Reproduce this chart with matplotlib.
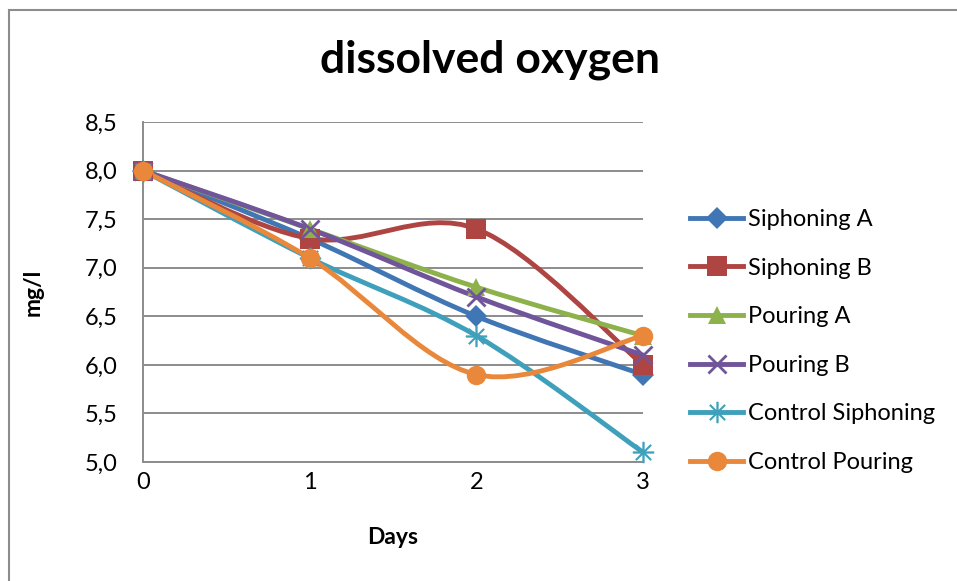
import matplotlib
matplotlib.use("Agg")
import matplotlib.pyplot as plt
from matplotlib.path import Path
from matplotlib.patches import PathPatch
from matplotlib.lines import Line2D
from matplotlib.ticker import FuncFormatter, MultipleLocator

plt.rcParams['font.family'] = ['Lato', 'DejaVu Sans']

days = [0, 1, 2, 3]
siphoning_a = [8.0, 7.3, 6.5, 5.9]
siphoning_b = [8.0, 7.3, 7.4, 6.0]
pouring_a = [8.0, 7.4, 6.8, 6.3]
pouring_b = [8.0, 7.4, 6.7, 6.1]
control_siphoning = [8.0, 7.1, 6.3, 5.1]
control_pouring = [8.0, 7.1, 5.9, 6.3]

labels = ["Siphoning A", "Siphoning B", "Pouring A", "Pouring B",
          "Control Siphoning", "Control Pouring"]
series = [siphoning_a, siphoning_b, pouring_a, pouring_b,
          control_siphoning, control_pouring]
colors = ['#4176B4', '#AE4542', '#8DB14B', '#70559A', '#3FA0BB', '#E9873A']
markers = ['D', 's', '^', 'x', '$\u2733$', 'o']
msizes = [11, 14, 13, 13, 15, 14]


def smooth_path(xs, ys):
    """Cubic Bezier path through the points (Catmull-Rom style control points)."""
    pts = list(zip(xs, ys))
    n = len(pts)
    verts = [pts[0]]
    codes = [Path.MOVETO]
    for i in range(n - 1):
        p0 = pts[i - 1] if i > 0 else pts[i]
        p1 = pts[i]
        p2 = pts[i + 1]
        p3 = pts[i + 2] if i + 2 < n else pts[i + 1]
        c1 = (p1[0] + (p2[0] - p0[0]) / 6, p1[1] + (p2[1] - p0[1]) / 6)
        c2 = (p2[0] - (p3[0] - p1[0]) / 6, p2[1] - (p3[1] - p1[1]) / 6)
        verts += [c1, c2, p2]
        codes += [Path.CURVE4] * 3
    return Path(verts, codes)


def marker_style(mk):
    if mk == 'x':
        return dict(mew=2)
    if mk.startswith('$'):
        return dict(mew=0.5)
    return dict(mew=0)


fig = plt.figure(figsize=(9.57, 5.81), dpi=100)
ax = fig.add_axes([143 / 957, 1 - 462 / 581, 500 / 957, 340 / 581])

lw = 3.5
for ys, lab, col, mk, ms in zip(series, labels, colors, markers, msizes):
    patch = PathPatch(smooth_path(days, ys), facecolor='none', edgecolor=col,
                      lw=lw, capstyle='round', joinstyle='round', zorder=3,
                      clip_on=False)
    ax.add_patch(patch)
    ax.plot(days, ys, linestyle='none', marker=mk, ms=ms, color=col,
            zorder=4, clip_on=False, **marker_style(mk))

ax.set_xlim(0, 3)
ax.set_ylim(5.0, 8.5)
ax.yaxis.set_major_locator(MultipleLocator(0.5))
ax.xaxis.set_major_locator(MultipleLocator(1))
ax.yaxis.set_major_formatter(FuncFormatter(lambda v, p: f"{v:.1f}".replace('.', ',')))
ax.grid(axis='y', color='#8C8C8C', lw=1.4)
ax.set_axisbelow(True)
for s in ['top', 'right']:
    ax.spines[s].set_visible(False)
for s in ['left', 'bottom']:
    ax.spines[s].set_color('#8C8C8C')
    ax.spines[s].set_linewidth(1.4)
ax.tick_params(length=0, labelsize=17)
ax.tick_params(axis='x', pad=7)
ax.tick_params(axis='y', pad=18)

ax.set_xlabel("Days", fontsize=16.5, fontweight='bold', labelpad=25)
ax.set_ylabel("mg/l", fontsize=16.5, fontweight='bold', labelpad=30)
fig.text(490 / 957, 1 - 60 / 581, "dissolved oxygen", fontsize=32,
         fontweight='bold', ha='center', va='center')

handles = [Line2D([], [], color=col, lw=lw, marker=mk, ms=ms, **marker_style(mk))
           for col, mk, ms in zip(colors, markers, msizes)]
leg = fig.legend(handles, labels, loc='upper left',
                 bbox_to_anchor=(690 / 957, 1 - 209 / 581),
                 frameon=False, fontsize=17, handlelength=2.25,
                 handletextpad=0.2, labelspacing=1.17, borderaxespad=0,
                 borderpad=0)

# outer chart frame (top and left edges)
fig.add_artist(Line2D([9 / 957, 1], [1 - 10 / 581, 1 - 10 / 581],
                      transform=fig.transFigure, color='#8C8C8C', lw=1.5))
fig.add_artist(Line2D([9 / 957, 9 / 957], [0, 1 - 10 / 581],
                      transform=fig.transFigure, color='#8C8C8C', lw=1.5))

fig.savefig("out.png", dpi=100, facecolor='white')
